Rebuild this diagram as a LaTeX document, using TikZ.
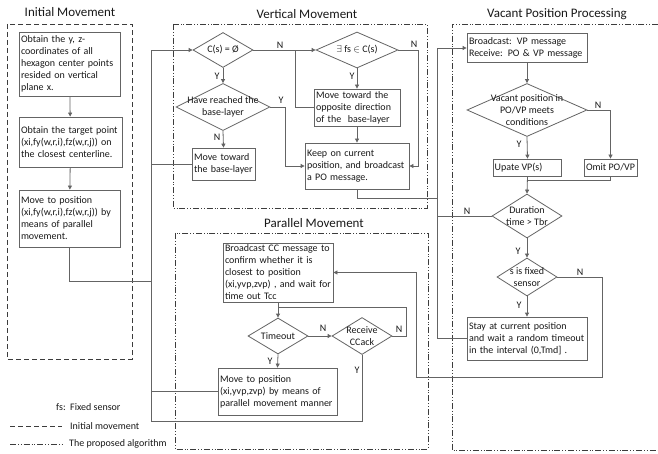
\documentclass[tikz,border=0pt]{standalone}
\usepackage{fontspec}
\setmainfont{Carlito}
\usetikzlibrary{arrows.meta,shapes.geometric}
\definecolor{lc}{RGB}{100,100,100}
\definecolor{fc}{RGB}{60,60,60}
\definecolor{tc}{RGB}{25,25,25}
\begin{document}
\begin{tikzpicture}[x=1pt,y=-1pt,
  txt/.style={font=\fontsize{10}{12}\selectfont, text=tc},
  box/.style={txt, draw=lc, line width=0.8pt, fill=white, align=left, inner sep=2pt, anchor=center},
  dia/.style={diamond, draw=lc, line width=0.8pt, fill=white, inner sep=0pt},
  dtext/.style={txt, align=center, inner sep=0pt},
  lbl/.style={txt, inner sep=0pt},
  ttl/.style={font=\fontsize{13}{15}\selectfont, text=tc, inner sep=0pt},
  conn/.style={draw=lc, line width=0.8pt},
  arr/.style={conn, -{Triangle[width=4pt,length=4pt]}},
  initframe/.style={draw=fc, line width=0.8pt, dash pattern=on 5pt off 3pt},
  algframe/.style={draw=fc, line width=0.8pt, dash pattern=on 6pt off 2pt on 0.8pt off 2pt on 0.8pt off 2pt}
]
\useasboundingbox (0,0) rectangle (658,454);
\fill[white] (0,0) rectangle (658,454);

% frames
\draw[initframe] (7,24) rectangle (132,359);
\draw[algframe] (173,24) rectangle (427,208);
\draw[algframe] (175,233) rectangle (428,449);
\draw[algframe] (658,24) -- (452,24) -- (452,450) -- (658,450);

% titles
\node[ttl] (t1) at (70,12) {Initial Movement};
\node[ttl] (t2) at (307,14) {Vertical Movement};
\node[ttl] (t3) at (557,14) {Vacant Position Processing};
\node[ttl] (t4) at (314,223) {Parallel Movement};

% Initial movement boxes
\node[box, text width=97pt, minimum height=64pt] (b1) at (69.5,64) {Obtain the y, z-\\coordinates of all\\hexagon center points\\resided on vertical\\plane x.};
\node[box, text width=99pt, minimum height=50pt] (b2) at (70.5,142) {Obtain the target point\\(xi,fy(w,r,i),fz(w,r,j)) on\\the closest centerline.};
\node[box, text width=97pt, minimum height=57pt] (b3) at (69.5,218.5) {Move to position\\(xi,fy(w,r,i),fz(w,r,j)) by\\means of parallel\\movement.};

% Vertical movement
\node[dia, minimum width=60pt, minimum height=35pt, label={[dtext]center:C(s) = Ø}] (d1) at (223,50) {};
\node[dia, minimum width=82pt, minimum height=36pt, label={[dtext]center:$\exists$ fs $\in$ C(s)}] (d2) at (357,50) {};
\node[dia, minimum width=94pt, minimum height=47pt, label={[dtext]center:Have reached the\\base-layer}] (d3) at (223,107) {};
\node[box, text width=59pt, minimum height=32pt] (v1) at (223.5,164) {Move toward\\the base-layer};
\node[box, text width=82pt, minimum height=37pt] (v2) at (357,107.5) {Move toward the\\opposite direction\\of the\ \ base-layer};
\node[box, text width=100pt, minimum height=46pt] (v3) at (357,166) {Keep on current\\position, and broadcast\\a PO message.};

% Parallel movement
\node[box, text width=106pt, minimum height=59pt] (p1) at (278,272.5) {Broadcast CC message to\\confirm whether it is\\closest to position\\(xi,yvp,zvp) , and wait for\\time out Tcc};
\node[dia, minimum width=60pt, minimum height=36pt, label={[dtext]center:Timeout}] (d4) at (278,336) {};
\node[dia, minimum width=60pt, minimum height=37pt, label={[dtext]center:Receive\\CCack}] (d5) at (362,336) {};
\node[box, text width=115pt, minimum height=47pt] (p2) at (277.5,391.5) {Move to position\\(xi,yvp,zvp) by means of\\parallel movement manner};

% Vacant position processing
\node[box, text width=116pt, minimum height=29pt] (q1) at (527,48) {Broadcast: VP message\\Receive: PO \& VP message};
\node[dia, minimum width=120pt, minimum height=53pt, label={[dtext]center:Vacant position in\\PO/VP meets\\conditions}] (d6) at (527,110) {};
\node[box, minimum width=65pt, minimum height=17pt, inner sep=1pt] (q2) at (527.5,167.5) {Upate VP(s)\hspace{18pt}};
\node[box, minimum width=53pt, minimum height=17pt, inner sep=1pt] (q3) at (610.5,167.5) {Omit PO/VP};
\node[dia, minimum width=70pt, minimum height=44pt, label={[dtext]center:Duration\\time > Tbr}] (d7) at (527,216) {};
\node[dia, minimum width=60pt, minimum height=38pt, label={[dtext]center:s is fixed\\sensor}] (d8) at (527,277) {};
\node[box, text width=116pt, minimum height=43pt] (q4) at (527,338.5) {Stay at current position\\and wait a random timeout\\in the interval (0,Tmd] .};

% junction coordinates
\coordinate (mtop) at (151,50);
\coordinate (mbot) at (151,421);
\coordinate (mj) at (151,281);
\coordinate (rtop) at (437,48);
\coordinate (rj) at (437,198);
\coordinate (lp) at (295,50);
\coordinate (cj) at (278,307);

% Initial movement connectors
\draw[arr] (b1) -- (b2);
\draw[arr] (b2) -- (b3);
\draw[conn] (b3.south) |- (mj);

% main left line
\draw[arr] (mbot) -- (mtop) -- (d1.west);
\draw[conn] (v1.west) -- (v1.west -| mtop);
\draw[conn] (p2.west) -- (p2.west -| mtop);
\draw[conn] (d5.south) |- (mbot);

% vertical connectors
\draw[arr] (d1.east) -- (d2.west);
\draw[conn] (v2.west) -| (lp);
\draw[arr] (d1.south) -- (d3.north);
\draw[arr] (d3.south) -- (v1.north);
\draw[arr] (d3.east) -- (285,107) |- (v3.west);
\draw[arr] (d2.south) -- (v2.north);
\draw[arr] (d2.east) -- (418,50) |- (v3.east);
\draw[arr] (v2.south) -- (v3.north);
\draw[conn] (v3.south) |- (rj);

% right line into vacant processing
\draw[arr] (q4.west) -| (rtop) -- (q1.west);
\draw[conn] (d7.west) -- (d7.west -| rtop);

% vacant connectors
\draw[arr] (q1.south) -- (d6.north);
\draw[arr] (d6.south) -- (q2.north);
\draw[arr] (d6.east) -| (q3.north);
\draw[arr] (q2.south) -- (d7.north);
\draw[conn] (q3.south) |- (527,180);
\draw[arr] (d7.south) -- (d8.north);
\draw[arr] (d8.south) -- (q4.north);
\draw[arr] (d8.east) -- (602,277) |- (416,377) |- (p1.east);

% parallel connectors
\draw[arr] (p1.south) -- (d4.north);
\draw[conn] (d5.east) -| (406,307) -- (cj);
\draw[arr] (d4.east) -- (d5.west);
\draw[arr] (d4.south) -- (p2.north);

% Y/N labels
\node[lbl] (n1) at (280,45) {N};
\node[lbl] (y1) at (217,76) {Y};
\node[lbl] (y2) at (281,100) {Y};
\node[lbl] (n2) at (217,137) {N};
\node[lbl] (n3) at (414,44) {N};
\node[lbl] (y3) at (352,76) {Y};
\node[lbl] (n4) at (323,328) {N};
\node[lbl] (y4) at (270,361) {Y};
\node[lbl] (n5) at (399,329) {N};
\node[lbl] (y5) at (357,370) {Y};
\node[lbl] (n6) at (598,105) {N};
\node[lbl] (y6) at (519,144) {Y};
\node[lbl] (n7) at (467,211) {N};
\node[lbl] (y7) at (518,251) {Y};
\node[lbl] (n8) at (580,272) {N};
\node[lbl] (y8) at (519,305) {Y};

% legend
\node[lbl, anchor=west] (fs) at (56,407) {fs:\ \ Fixed sensor};
\coordinate (la1) at (10,426);
\coordinate (la2) at (62,426);
\coordinate (lb1) at (10,444);
\coordinate (lb2) at (62,444);
\draw[initframe] (la1) -- (la2);
\draw[algframe] (lb1) -- (lb2);
\node[lbl, anchor=west] (lt1) at (70,426) {Initial movement};
\node[lbl, anchor=west] (lt2) at (69,444) {The proposed algorithm};
\end{tikzpicture}
\end{document}
